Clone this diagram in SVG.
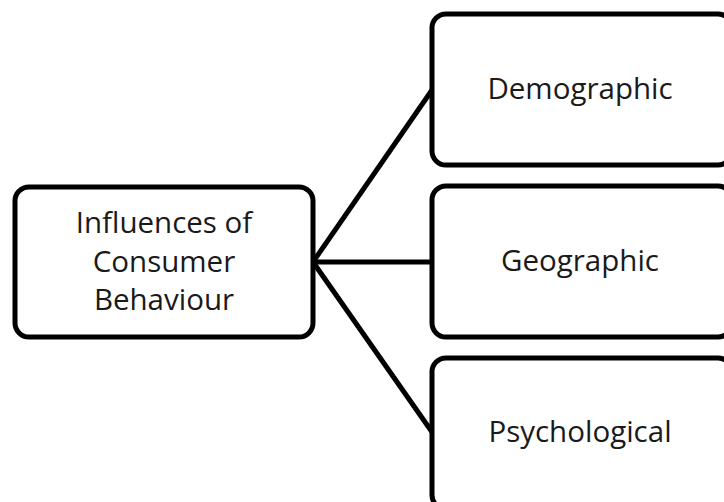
<svg xmlns="http://www.w3.org/2000/svg" width="724" height="502" viewBox="0 0 724 502">
<style>
.box{fill:#fff;stroke:#000;stroke-width:5}
.lbl{font-family:"Open Sans","Liberation Sans",sans-serif;font-size:29.5px;fill:#1a1a1a;text-anchor:middle}
.conn{stroke:#000;stroke-width:5;fill:none}
</style>
<rect width="724" height="502" fill="#fff"/>
<g id="connectors">
<line class="conn" x1="313" y1="262" x2="432" y2="90"/>
<line class="conn" x1="313" y1="262" x2="432" y2="262"/>
<line class="conn" x1="313" y1="262" x2="432" y2="432"/>
</g>
<g id="influences">
<rect class="box" x="15" y="187" width="298" height="150" rx="14"/>
<text class="lbl" x="164" y="233">Influences of</text>
<text class="lbl" x="164" y="272">Consumer</text>
<text class="lbl" x="164" y="310">Behaviour</text>
</g>
<g id="demographic">
<rect class="box" x="432" y="14" width="300" height="151" rx="14"/>
<text class="lbl" x="580" y="99">Demographic</text>
</g>
<g id="geographic">
<rect class="box" x="432" y="186" width="300" height="151" rx="14"/>
<text class="lbl" x="580" y="271">Geographic</text>
</g>
<g id="psychological">
<rect class="box" x="432" y="358" width="300" height="151" rx="14"/>
<text class="lbl" x="580" y="442">Psychological</text>
</g>
</svg>
